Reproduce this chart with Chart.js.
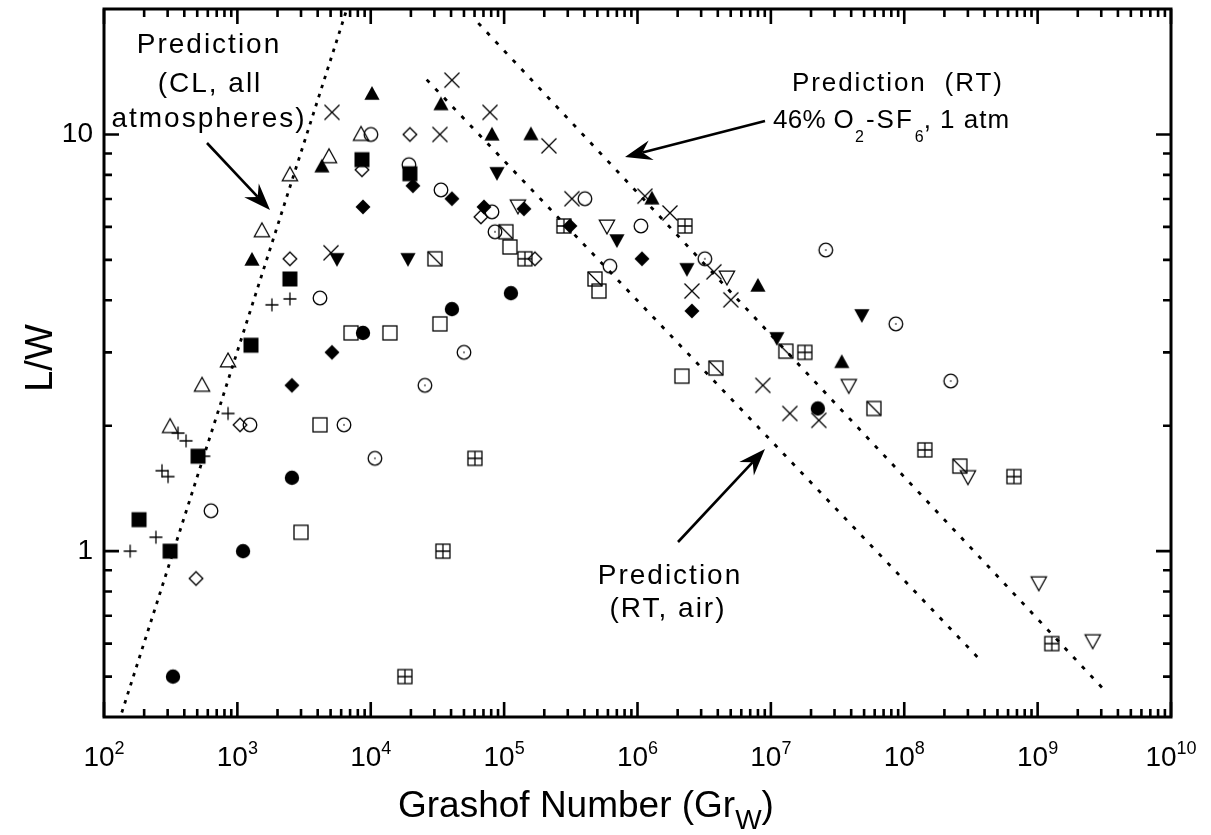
<!DOCTYPE html>
<html><head><meta charset="utf-8">
<script src="https://cdn.jsdelivr.net/npm/chart.js@4.4.1/dist/chart.umd.min.js"></script>
<style>html,body{margin:0;padding:0;background:#fff}canvas{display:block}</style>
</head><body>
<canvas id="c" width="1211" height="835"></canvas>
<script>
// ---- axis / tick data ----
const xTickExponents = [2,3,4,5,6,7,8,9,10];
const yTickValues = [1, 10];
const xRange = [1e2, 1e10];
const yRange = [0.4, 20];

// ---- series data: [Grashof number, L/W] ----
const filledCircle = [[8742,3.34],[40600,3.81],[112400,4.16],[2564,1.50],[1103,1.00],[329,0.50],[2.25e7,2.20]];
const openCircle = [[10030,10.0],[19330,8.46],[33600,7.36],[81100,6.52],[403300,7.01],[1.061e6,6.03],[621000,4.83],[4161,4.05],[1243,2.01],[634,1.25]];
const dotCircle = [[85400,5.84],[49990,3.00],[25470,2.50],[10745,1.67],[6295,2.01],[3.2e6,5.03],[2.58e7,5.28],[8.65e7,3.51],[2.23e8,2.56]];
const filledSquare = [[8596,8.70],[19660,8.05],[2477,4.50],[1264,3.12],[507,1.69],[183,1.19],[313,1.00]];
const openSquare = [[7112,3.34],[13927,3.34],[2997,1.11],[4161,2.01],[33000,3.51],[110500,5.37],[513900,4.21],[2.153e6,2.63]];
const diagSquare = [[30280,5.03],[103100,5.84],[479700,4.50],[3.87e6,2.75],[1.295e7,3.02],[5.92e7,2.20],[2.61e8,1.60]];
const crossSquare = [[280800,6.03],[143100,5.03],[2.266e6,6.03],[1.798e7,3.00],[1.427e8,1.75],[6.64e8,1.51],[1.277e9,0.60],[60400,1.67],[34750,1.00],[18040,0.50]];
const filledTriangle = [[10208,12.5],[33600,11.8],[81100,9.98],[158800,10.0],[4305,8.37],[1286,5.00],[1.282e6,7.01],[7.99e6,4.33],[3.40e7,2.84]];
const openTriangle = [[8453,10.0],[4862,8.84],[2477,8.00],[1528,5.87],[851,2.86],[543,2.50],[313,1.99]];
const filledDownTriangle = [[5584,5.03],[88400,8.09],[19010,5.03],[701000,5.58],[2.346e6,4.76],[1.109e7,3.25],[4.81e7,3.69]];
const openDownTriangle = [[126900,6.74],[590000,6.03],[4.68e6,4.55],[3.84e7,2.50],[3.00e8,1.51],[1.02e9,0.84],[2.59e9,0.61]];
const filledDiamond = [[8742,6.70],[20700,7.53],[40600,7.01],[70600,6.70],[140700,6.63],[311300,6.03],[1.08e6,5.03],[2.557e6,3.77],[5118,3.00],[2564,2.50]];
const openDiamond = [[8596,8.23],[19660,10.0],[2477,5.03],[67000,6.34],[1047,2.01],[490,0.86],[170100,5.03]];
const plusMark = [[272,1.56],[302,1.51],[359,1.92],[412,1.84],[560,1.69],[157,1.00],[245,1.08],[851,2.14],[1816,3.90],[2477,4.03]];
const crossMark = [[5118,11.3],[5034,5.20],[40600,13.5],[78300,11.3],[33000,10.0],[216700,9.39],[322300,7.01],[1.137e6,7.11],[1.75e6,6.48],[3.74e6,4.68],[2.557e6,4.21],[5.01e6,4.01],[8.71e6,2.50],[1.387e7,2.14],[2.29e7,2.06]];

// ---- prediction lines (end points) ----
const predCL = [[136,0.41],[6620,20]];
const predRTair = [[26260,13.54],[3.86e8,0.541]];
const predRTsf6 = [[64000,18.5],[3.07e9,0.469]];

// ---- marker symbols ----
function sym(kind){
  const s=26, c=document.createElement('canvas'); c.width=s; c.height=s;
  const g=c.getContext('2d'); g.translate(s/2,s/2);
  g.lineWidth=1.3; g.strokeStyle='#000'; g.fillStyle='#000';
  const tri=d=>{g.beginPath(); g.moveTo(0,-8*d); g.lineTo(7.6,5.8*d); g.lineTo(-7.6,5.8*d); g.closePath();};
  const dia=r=>{g.beginPath(); g.moveTo(0,-r); g.lineTo(r,0); g.lineTo(0,r); g.lineTo(-r,0); g.closePath();};
  switch(kind){
    case 'fc': g.beginPath(); g.arc(0,0,7.2,0,Math.PI*2); g.fill(); break;
    case 'oc': g.beginPath(); g.arc(0,0,6.8,0,Math.PI*2); g.stroke(); break;
    case 'dc': g.beginPath(); g.arc(0,0,6.8,0,Math.PI*2); g.stroke(); g.fillRect(-0.7,-0.7,1.4,1.4); break;
    case 'fs': g.fillRect(-7.5,-7.5,15,15); break;
    case 'os': g.strokeRect(-7,-7,14,14); break;
    case 'ds': g.strokeRect(-7,-7,14,14); g.beginPath(); g.moveTo(-7,-7); g.lineTo(7,7); g.stroke(); break;
    case 'xs': g.strokeRect(-7,-7,14,14); g.beginPath(); g.moveTo(0,-7); g.lineTo(0,7); g.moveTo(-7,0); g.lineTo(7,0); g.stroke(); break;
    case 'ft': tri(1); g.fill(); break;
    case 'ot': tri(1); g.stroke(); break;
    case 'fd': tri(-1); g.fill(); break;
    case 'od': tri(-1); g.stroke(); break;
    case 'fm': dia(7.5); g.fill(); break;
    case 'om': dia(6.8); g.stroke(); break;
    case 'pl': g.beginPath(); g.moveTo(-6.5,0); g.lineTo(6.5,0); g.moveTo(0,-6.5); g.lineTo(0,6.5); g.stroke(); break;
    case 'cr': g.beginPath(); g.moveTo(-7.5,-7.5); g.lineTo(7.5,7.5); g.moveTo(7.5,-7.5); g.lineTo(-7.5,7.5); g.stroke(); break;
  }
  return c;
}

const series = [
  [openCircle,'oc'],[dotCircle,'dc'],[openSquare,'os'],[diagSquare,'ds'],[crossSquare,'xs'],
  [openTriangle,'ot'],[openDownTriangle,'od'],[openDiamond,'om'],[plusMark,'pl'],[crossMark,'cr'],
  [filledCircle,'fc'],[filledSquare,'fs'],[filledTriangle,'ft'],[filledDownTriangle,'fd'],[filledDiamond,'fm']
];
const toXY = a => a.map(([x,y])=>({x,y}));
const datasets = series.map(([arr,k])=>({
  type:'scatter', data:toXY(arr), pointStyle:sym(k), pointRadius:8, pointHoverRadius:8
}));
[[predCL,[3.5,6]],[predRTair,[4,8.6]],[predRTsf6,[4,8.6]]].forEach(([arr,dash])=>{
  datasets.push({type:'line', data:toXY(arr), borderColor:'#000', borderWidth:2.8, borderDash:dash,
    borderCapStyle:'butt', pointRadius:0, fill:false, tension:0});
});

// ---- helpers ----
const FONT = '"Liberation Sans", Arial, sans-serif';
function spaced(ctx, text, x, y, size, ls, align){
  ctx.font = size+'px '+FONT; ctx.letterSpacing = ls+'px'; ctx.textAlign='left'; ctx.textBaseline='alphabetic';
  const w = ctx.measureText(text).width - ls;
  let sx = x; if(align==='center') sx = x - w/2; else if(align==='right') sx = x - w;
  ctx.fillText(text, sx, y); ctx.letterSpacing='0px';
  return sx + w + ls;
}
function arrow(ctx, x1,y1,x2,y2){
  const a=Math.atan2(y2-y1,x2-x1), L=27, W=10, N=18;
  ctx.save(); ctx.strokeStyle='#000'; ctx.fillStyle='#000'; ctx.lineWidth=2.6;
  ctx.beginPath(); ctx.moveTo(x1,y1); ctx.lineTo(x2-Math.cos(a)*N, y2-Math.sin(a)*N); ctx.stroke();
  ctx.translate(x2,y2); ctx.rotate(a);
  ctx.beginPath(); ctx.moveTo(0,0); ctx.lineTo(-L,-W); ctx.lineTo(-N,0); ctx.lineTo(-L,W); ctx.closePath(); ctx.fill();
  ctx.restore();
}

const decor = {
  id:'decor',
  afterDraw(chart){
    const ctx=chart.ctx, ca=chart.chartArea, xs=chart.scales.x, ys=chart.scales.y;
    ctx.save();
    ctx.fillStyle='#000'; ctx.strokeStyle='#000';
    // frame
    ctx.lineWidth=3;
    ctx.strokeRect(ca.left, ca.top, ca.right-ca.left, ca.bottom-ca.top);
    // x ticks
    ctx.lineWidth=2.6;
    ctx.beginPath();
    xTickExponents.forEach((n,i)=>{
      const px=xs.getPixelForValue(Math.pow(10,n));
      ctx.moveTo(px,ca.bottom); ctx.lineTo(px,ca.bottom-15);
      ctx.moveTo(px,ca.top); ctx.lineTo(px,ca.top+15);
      if(i<xTickExponents.length-1){
        for(let k=2;k<=9;k++){
          const p=xs.getPixelForValue(k*Math.pow(10,n));
          ctx.moveTo(p,ca.bottom); ctx.lineTo(p,ca.bottom-8);
          ctx.moveTo(p,ca.top); ctx.lineTo(p,ca.top+8);
        }
      }
    });
    // y ticks
    const yMinor=[0.5,0.6,0.7,0.8,0.9,2,3,4,5,6,7,8,9];
    yTickValues.forEach(v=>{
      const py=ys.getPixelForValue(v);
      ctx.moveTo(ca.left,py); ctx.lineTo(ca.left+15,py);
      ctx.moveTo(ca.right,py); ctx.lineTo(ca.right-15,py);
    });
    yMinor.forEach(v=>{
      const py=ys.getPixelForValue(v);
      ctx.moveTo(ca.left,py); ctx.lineTo(ca.left+8,py);
      ctx.moveTo(ca.right,py); ctx.lineTo(ca.right-8,py);
    });
    ctx.stroke();
    // x tick labels 10^n
    ctx.textBaseline='alphabetic'; ctx.textAlign='left';
    xTickExponents.forEach(n=>{
      const px=xs.getPixelForValue(Math.pow(10,n));
      ctx.font='28px '+FONT;
      const w1=ctx.measureText('10').width;
      ctx.font='18px '+FONT;
      const w2=ctx.measureText(String(n)).width;
      const sx=px-(w1+w2)/2;
      ctx.font='28px '+FONT; ctx.fillText('10',sx,766);
      ctx.font='18px '+FONT; ctx.fillText(String(n),sx+w1,754);
    });
    // y tick labels
    ctx.font='28px '+FONT; ctx.textAlign='right'; ctx.textBaseline='middle';
    yTickValues.forEach(v=>{ ctx.fillText(String(v), 93, ys.getPixelForValue(v)); });
    // axis titles
    ctx.textBaseline='alphabetic';
    ctx.font='37px '+FONT; ctx.textAlign='left';
    const t1='Grashof Number (Gr';
    const tw=ctx.measureText(t1).width;
    const tx=398;
    ctx.fillText(t1,tx,817);
    ctx.font='28px '+FONT; ctx.fillText('W',tx+tw,829);
    const ww=ctx.measureText('W').width;
    ctx.font='37px '+FONT; ctx.fillText(')',tx+tw+ww,817);
    ctx.save(); ctx.translate(52,358); ctx.rotate(-Math.PI/2);
    ctx.font='38px '+FONT; ctx.textAlign='center'; ctx.fillText('L/W',0,0); ctx.restore();
    // annotations
    spaced(ctx,'Prediction',208,53,28,2,'center');
    spaced(ctx,'(CL, all',209,92,28,2,'center');
    spaced(ctx,'atmospheres)',208,127,28,2,'center');
    arrow(ctx,207,143,270,210);

    let x = spaced(ctx,'Prediction',792,91,26,1.9,'left');
    spaced(ctx,'(RT)',x+18,91,26,1.9,'left');
    x = spaced(ctx,'46% O',773,128,26,0.3,'left');
    x = spaced(ctx,'2',x+1,142,16,0,'left');
    x = spaced(ctx,'-SF',x+2,128,26,2,'left');
    x = spaced(ctx,'6',x+1,142,16,0,'left');
    spaced(ctx,', 1 atm',x,128,26,1,'left');
    arrow(ctx,765,121,625,157);

    spaced(ctx,'Prediction',669,584,28,2,'center');
    spaced(ctx,'(RT, air)',667,617,28,2,'center');
    arrow(ctx,678,542,765,449);
    ctx.restore();
  }
};

new Chart(document.getElementById('c'), {
  type:'scatter',
  data:{datasets},
  options:{
    responsive:false, animation:false, devicePixelRatio:1,
    layout:{padding:{left:104,top:7,right:40,bottom:118}},
    plugins:{legend:{display:false}, tooltip:{enabled:false}},
    scales:{
      x:{type:'logarithmic', min:xRange[0], max:xRange[1], display:false},
      y:{type:'logarithmic', min:yRange[0], max:yRange[1], display:false}
    }
  },
  plugins:[decor]
});
</script>
</body></html>
